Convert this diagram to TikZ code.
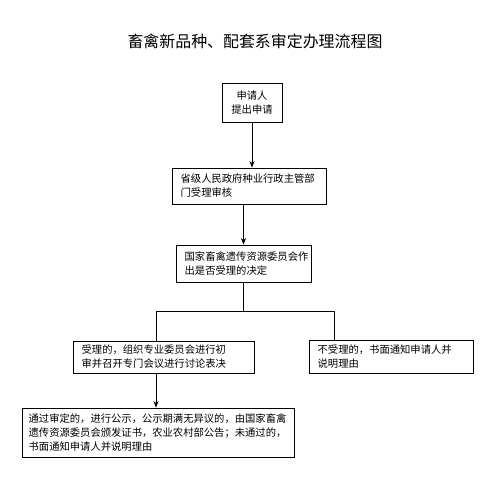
\documentclass[tikz,border=0pt]{standalone}
\usepackage{fontspec}
\setmainfont{Noto Sans CJK SC}
\usetikzlibrary{arrows.meta, positioning}

\begin{document}
\begin{tikzpicture}[>=Stealth,
    box/.style={draw, line width=0.6pt, inner xsep=0.26cm, inner ysep=0pt, align=left,
                font=\fontsize{8.8pt}{12pt}\selectfont},
    link/.style={line width=0.6pt}]
    \useasboundingbox (0,0) rectangle (15,-14.52);

    % Title
    \node (title) at (7.65,-1.25) {\fontsize{13.6pt}{16pt}\selectfont 畜禽新品种、配套系审定办理流程图};

    % Boxes
    \node[box, align=center, minimum width=1.8cm, minimum height=1.17cm, inner xsep=0pt] (apply) at (7.56,-3.075) {申请人\\提出申请};
    \node[box, text width=4.10cm, minimum height=1.08cm] (province) at (7.47,-5.58) {省级人民政府种业行政主管部\\门受理审核};
    \node[box, text width=3.53cm, minimum height=1.11cm] (committee) at (7.305,-7.905) {国家畜禽遗传资源委员会作\\出是否受理的决定};
    \node[box, text width=4.91cm, minimum height=0.96cm] (accept) at (4.905,-10.71) {受理的，组织专业委员会进行初\\审并召开专门会议进行讨论表决};
    \node[box, text width=4.40cm, minimum height=0.99cm] (reject) at (11.73,-10.71) {不受理的，书面通知申请人并\\说明理由};
    \node[box, inner xsep=0.2cm, text width=7.76cm, minimum height=1.47cm] (result) at (4.74,-12.975) {通过审定的，进行公示，公示期满无异议的，由国家畜禽\\遗传资源委员会颁发证书，农业农村部公告；未通过的，\\书面通知申请人并说明理由};

    % Branch points
    \coordinate (splitL) at (4.68,-9.33);
    \coordinate (splitR) at (10.02,-9.33);

    % Connectors
    \draw[link, ->] (apply.south) -- (apply.south |- province.north);
    \draw[link, ->] (province.south -| committee.south) -- (committee.north);
    \draw[link] (committee.south) -- (committee.south |- splitL);
    \draw[link] (splitL) -- (splitR);
    \draw[link] (splitL) -- (splitL |- accept.north);
    \draw[link] (splitR) -- (splitR |- reject.north);
    \draw[link, ->] (splitL |- accept.south) -- (splitL |- result.north);
\end{tikzpicture}
\end{document}
